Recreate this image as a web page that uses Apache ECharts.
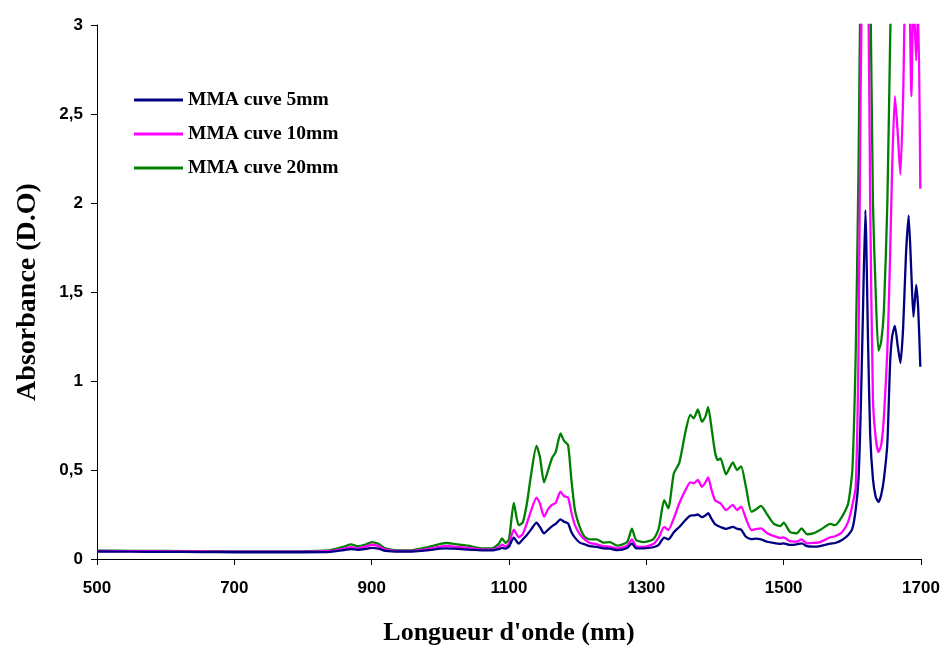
<!DOCTYPE html>
<html><head><meta charset="utf-8">
<script src="https://cdn.jsdelivr.net/npm/echarts@6/dist/echarts.min.js"></script>
<style>html,body{margin:0;padding:0;background:#fff}#c{width:946px;height:645px}</style>
</head><body><div id="c"></div>
<script>
const seriesNames = ['MMA cuve 5mm', 'MMA cuve 10mm', 'MMA cuve 20mm'];
const xTicks = [500, 700, 900, 1100, 1300, 1500, 1700];
const yTicks = [0, 0.5, 1, 1.5, 2, 2.5, 3];
const wavelength = [500,550,600,650,700,750,800,840,860,870,880,890,900,910,920,940,960,980,1000,1010,1020,1040,1060,1075,1085,1090,1095,1100,1107,1114,1120,1126,1132,1140,1145,1151,1157,1163,1168,1175,1180,1186,1191,1196,1203,1210,1218,1228,1237,1247,1258,1272,1279,1285,1296,1310,1318,1326,1332,1340,1348,1357,1364,1369,1375,1381,1386,1390,1395,1400,1404,1408,1416,1426,1432,1438,1445,1453,1460,1467,1476,1485,1495,1500,1509,1519,1526,1534,1543,1553,1568,1575,1585,1594,1600,1605,1609,1612,1615,1619,1623,1626,1630,1634,1638,1642,1646,1651,1655,1658,1662,1666,1670,1674,1678,1682,1686,1689,1693,1696,1699];
const abs20 = [0.047,0.046,0.045,0.044,0.043,0.043,0.044,0.050,0.070,0.082,0.072,0.080,0.095,0.085,0.060,0.048,0.050,0.065,0.085,0.090,0.085,0.075,0.060,0.060,0.085,0.116,0.090,0.110,0.315,0.190,0.205,0.310,0.470,0.635,0.575,0.430,0.500,0.570,0.600,0.705,0.665,0.640,0.440,0.275,0.180,0.125,0.110,0.110,0.092,0.095,0.075,0.095,0.170,0.107,0.095,0.110,0.170,0.330,0.285,0.480,0.540,0.715,0.810,0.790,0.840,0.770,0.800,0.853,0.735,0.600,0.556,0.565,0.476,0.543,0.500,0.520,0.406,0.266,0.280,0.298,0.250,0.200,0.185,0.204,0.153,0.144,0.172,0.139,0.144,0.163,0.197,0.190,0.238,0.313,0.500,1.170,2.200,3.300,3.600,4.000,3.600,3.300,2.000,1.500,1.170,1.220,1.400,2.000,2.900,3.400,3.600,3.800,3.900,4.000,4.000,4.000,4.000,4.000,4.000,4.000,4.000];
const abs10 = [0.045,0.044,0.043,0.042,0.041,0.041,0.041,0.045,0.058,0.066,0.060,0.068,0.080,0.072,0.052,0.045,0.046,0.056,0.070,0.074,0.070,0.063,0.054,0.053,0.066,0.080,0.070,0.085,0.165,0.122,0.140,0.200,0.270,0.345,0.313,0.238,0.280,0.305,0.315,0.378,0.354,0.345,0.260,0.190,0.140,0.110,0.090,0.082,0.072,0.069,0.060,0.075,0.110,0.072,0.068,0.084,0.120,0.180,0.163,0.228,0.313,0.388,0.431,0.425,0.444,0.406,0.430,0.459,0.388,0.330,0.320,0.313,0.275,0.304,0.275,0.294,0.228,0.163,0.168,0.172,0.145,0.130,0.118,0.122,0.100,0.098,0.110,0.088,0.090,0.095,0.122,0.128,0.150,0.210,0.300,0.410,1.170,2.600,3.400,3.600,3.300,2.000,0.900,0.680,0.600,0.640,0.800,1.170,1.700,2.200,2.600,2.400,2.160,2.600,3.300,3.300,2.600,3.200,2.800,3.100,2.080];
const abs5 = [0.042,0.041,0.040,0.039,0.038,0.038,0.038,0.040,0.050,0.056,0.052,0.056,0.063,0.058,0.046,0.042,0.042,0.048,0.058,0.060,0.058,0.053,0.049,0.048,0.055,0.062,0.058,0.070,0.120,0.086,0.110,0.135,0.165,0.204,0.180,0.144,0.165,0.185,0.197,0.223,0.210,0.200,0.150,0.120,0.092,0.083,0.072,0.068,0.060,0.058,0.050,0.062,0.088,0.060,0.060,0.066,0.080,0.120,0.110,0.150,0.180,0.219,0.244,0.245,0.250,0.235,0.245,0.257,0.225,0.195,0.187,0.180,0.169,0.180,0.170,0.165,0.125,0.112,0.115,0.110,0.097,0.090,0.085,0.088,0.079,0.082,0.088,0.072,0.069,0.072,0.086,0.090,0.107,0.135,0.170,0.280,0.450,0.800,1.300,1.960,1.200,0.700,0.450,0.350,0.320,0.360,0.450,0.650,1.100,1.250,1.310,1.200,1.100,1.300,1.700,1.930,1.600,1.360,1.540,1.400,1.080];

const colors = ['#000080', '#FF00FF', '#008000'];
const seriesData = [abs5, abs10, abs20];

const chart = echarts.init(document.getElementById('c'), null, {renderer: 'canvas'});
const sans = '"Liberation Sans", Arial, sans-serif';
const serif = '"Liberation Serif", "Times New Roman", serif';
chart.setOption({
  animation: false,
  backgroundColor: '#ffffff',
  grid: {left: 97, right: 25, top: 25, bottom: 86, containLabel: false, outerBoundsMode: 'none'},
  legend: {
    orient: 'vertical', left: 134, top: 89, padding: 0,
    itemWidth: 49, itemHeight: 3, itemGap: 12, icon: 'rect',
    data: seriesNames,
    textStyle: {fontFamily: serif, fontWeight: 'bold', fontSize: 19.5, color: '#000', lineHeight: 22}
  },
  xAxis: {
    type: 'value', min: xTicks[0], max: xTicks[xTicks.length - 1], interval: 200,
    name: "Longueur d'onde (nm)", nameLocation: 'middle', nameGap: 61,
    nameTextStyle: {fontFamily: serif, fontWeight: 'bold', fontSize: 26, color: '#000'},
    axisLine: {show: true, lineStyle: {color: '#000', width: 1}},
    axisTick: {show: true, length: 6, lineStyle: {color: '#000'}},
    axisLabel: {fontFamily: sans, fontWeight: 'bold', fontSize: 17, color: '#000', margin: 21,
      formatter: v => String(v)},
    splitLine: {show: false}
  },
  yAxis: {
    type: 'value', min: yTicks[0], max: yTicks[yTicks.length - 1], interval: 0.5,
    name: 'Absorbance (D.O)', nameLocation: 'middle', nameGap: 55, nameRotate: 90,
    nameTextStyle: {fontFamily: serif, fontWeight: 'bold', fontSize: 28, color: '#000'},
    axisLine: {show: true, lineStyle: {color: '#000', width: 1}},
    axisTick: {show: true, length: 6, lineStyle: {color: '#000'}},
    axisLabel: {fontFamily: sans, fontWeight: 'bold', fontSize: 17, color: '#000', margin: 14,
      formatter: v => String(v).replace('.', ',')},
    splitLine: {show: false}
  },
  series: seriesNames.map((n, i) => ({
    name: n, type: 'line', showSymbol: false, clip: true, smooth: 0.2,
    data: wavelength.map((w, j) => [w, seriesData[i][j]]),
    lineStyle: {color: colors[i], width: 2.3},
    itemStyle: {color: colors[i]},
    z: 3 - i
  }))
});
</script></body></html>
